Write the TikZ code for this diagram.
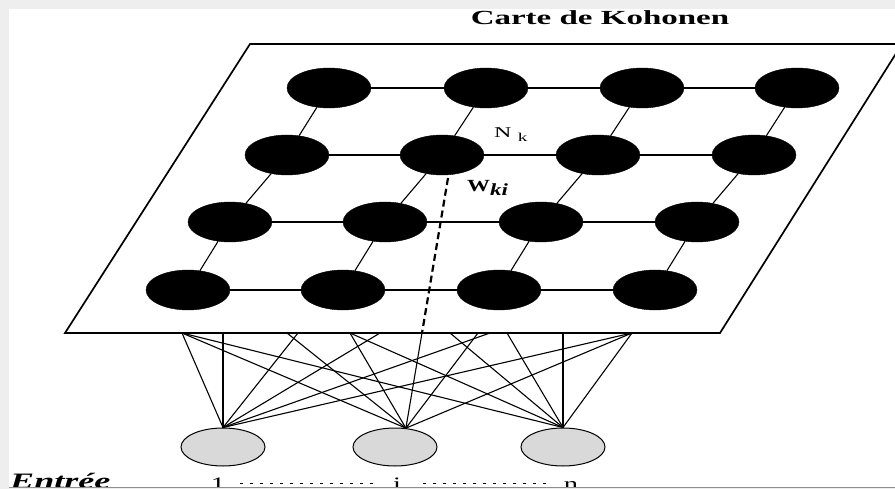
\documentclass[tikz,border=0pt]{standalone}
\usepackage{fontspec}
\setmainfont{Liberation Serif}
\usepackage{graphicx}
\usetikzlibrary{shapes.geometric,calc}
\definecolor{edgegrey}{HTML}{EEEEEE}
\definecolor{rule}{HTML}{8E8E8E}
\definecolor{cell}{HTML}{D9D9D9}
\newcommand{\wide}[2]{\scalebox{#1}[1]{#2}}

\begin{document}
\begin{tikzpicture}[x=1pt,y=-1pt,
    neuron/.style={ellipse,fill=black,draw=black,inner sep=0pt,
      minimum width=84pt,minimum height=40pt},
    entry/.style={ellipse,fill=cell,draw=black,line width=1pt,inner sep=0pt,
      minimum width=84pt,minimum height=38pt},
    link/.style={line width=1.1pt},
    wire/.style={line width=1.1pt},
    dots/.style={line width=1.3pt,dash pattern=on 2.5pt off 7.5pt},
    digit/.style={anchor=base,inner sep=2pt,text height=13pt,text depth=0pt,
      font=\fontsize{19}{19}\selectfont}]
    \useasboundingbox (0,0) rectangle (895,489);
    \fill[edgegrey] (0,0) rectangle (895,489);
    \fill[white] (9,9) rectangle (895,487);
    \begin{scope}
    \clip (9,9) rectangle (895,487);
    \node[anchor=base,inner sep=0pt,font=\fontsize{20}{20}\selectfont\bfseries]
      (title) at (600,25) {\wide{1.65}{Carte de Kohonen}};
    \draw[line width=1.7pt] (250,44) -- (902,44) -- (720,333) -- (65,333) -- cycle;
    % carte
    \foreach \x [count=\c] in {329,486,642,797} \node[neuron] (n1\c) at (\x,88) {};
    \foreach \x [count=\c] in {287,442,598,754} \node[neuron] (n2\c) at (\x,155) {};
    \foreach \x [count=\c] in {230,385,541,697} \node[neuron] (n3\c) at (\x,222) {};
    \foreach \x [count=\c] in {188,343,499,655} \node[neuron] (n4\c) at (\x,290) {};
    \foreach \r in {1,...,4}
      \foreach \c/\d in {1/2,2/3,3/4} \draw[link] (n\r\c) -- (n\r\d);
    \foreach \r/\s in {1/2,2/3,3/4}
      \foreach \c in {1,...,4} \draw[link] (n\r\c) -- (n\s\c);
    \node[anchor=base west,inner sep=0pt,font=\fontsize{15}{15}\selectfont]
      (nk) at (494,138) {\wide{1.6}{N\hspace{4pt}\raisebox{-0.45ex}{\fontsize{12}{12}\selectfont k}}};
    \node[anchor=base west,inner sep=0pt,font=\fontsize{17}{17}\selectfont\bfseries]
      (wki) at (467,192) {\wide{1.35}{W\raisebox{-0.4ex}{\itshape ki}}};
    % entrees
    \node[entry] (in1) at (223,447) {};
    \node[entry] (ini) at (395,447) {};
    \node[entry] (inn) at (563,447) {};
    \foreach \x [count=\k] in {182,223,287,298,350,380,450,478,490,507,563,632}
      \coordinate (p\k) at (\x,333);
    \coordinate (ws) at (448,178);
    \coordinate (wb) at (422,333);
    \draw[line width=2.2pt,dash pattern=on 7pt off 4pt] (ws) -- (wb);
    \foreach \k in {1,2,4,6,9,12} \draw[wire] (in1.north) -- (p\k);
    \foreach \k in {1,3,5,8,12} \draw[wire] (ini.60) -- (p\k);
    \draw[wire] (ini.60) -- (wb);
    \foreach \k in {1,5,7,10,11,12} \draw[wire] (inn.north) -- (p\k);
    \node[digit] (l1) at (218,490) {\wide{1.5}{1}};
    \node[digit] (li) at (397,490) {\wide{1.5}{i}};
    \node[digit] (ln) at (571,490) {\wide{1.5}{n}};
    \draw[dots,shorten <=13pt,shorten >=11pt] (l1) -- (li);
    \draw[dots,shorten <=20pt,shorten >=14pt] (li) -- (ln);
    \node[anchor=base west,inner sep=0pt,font=\fontsize{22}{22}\selectfont\bfseries\itshape]
      (entree) at (10,488) {\wide{1.64}{Entrée}};
    \end{scope}
    \draw[rule,line width=1.5pt] (9,487.5) -- (895,487.5);
  \end{tikzpicture}
\end{document}
